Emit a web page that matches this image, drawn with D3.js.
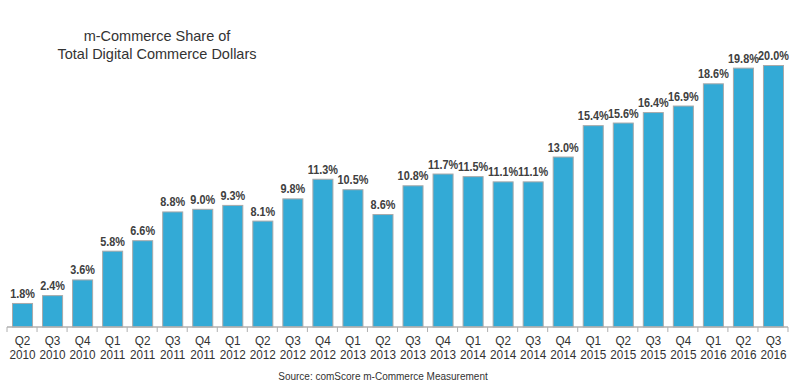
<!DOCTYPE html>
<html>
<head>
<meta charset="utf-8">
<title>m-Commerce Share</title>
<script src="https://d3js.org/d3.v7.min.js"></script>
<style>
  body { margin: 0; background: #fff; font-family: "Liberation Sans", Arial, sans-serif; }
</style>
</head>
<body>
<svg id="chart" width="800" height="388"></svg>
<script>
// quarters and values
var quarters = ["Q2","Q3","Q4","Q1","Q2","Q3","Q4","Q1","Q2","Q3","Q4","Q1","Q2","Q3","Q4","Q1","Q2","Q3","Q4","Q1","Q2","Q3","Q4","Q1","Q2","Q3"];
var years = ["2010","2010","2010","2011","2011","2011","2011","2012","2012","2012","2012","2013","2013","2013","2013","2014","2014","2014","2014","2015","2015","2015","2015","2016","2016","2016"];
var shares = [1.8, 2.4, 3.6, 5.8, 6.6, 8.8, 9.0, 9.3, 8.1, 9.8, 11.3, 10.5, 8.6, 10.8, 11.7, 11.5, 11.1, 11.1, 13.0, 15.4, 15.6, 16.4, 16.9, 18.6, 19.8, 20.0];

var svg = d3.select("#chart");
var keys = quarters.map(function(q, i) { return q + " " + years[i]; });
var squeeze = 0.87;  // the source image is a bit narrow, so text is squeezed sideways

var x = d3.scaleBand()
    .domain(keys)
    .range([7, 788])
    .paddingInner(0.333)
    .paddingOuter(0.1667);

var y = d3.scaleLinear()
    .domain([0, 20])
    .range([326.5, 65]);

function cx(i) { return x(keys[i]) + x.bandwidth() / 2 + 0.5; }

// title
svg.append("text")
    .attr("x", 157).attr("y", 41)
    .attr("text-anchor", "middle")
    .style("font-size", "14.5px").style("fill", "#333")
    .text("m-Commerce Share of");
svg.append("text")
    .attr("x", 157).attr("y", 59)
    .attr("text-anchor", "middle")
    .style("font-size", "14.5px").style("fill", "#333")
    .text("Total Digital Commerce Dollars");

// bars
svg.append("g")
    .selectAll("rect")
    .data(shares)
    .enter()
    .append("rect")
    .attr("x", function(d, i) { return x(keys[i]) + 0.5; })
    .attr("y", function(d) { return y(d) + 0.5; })
    .attr("width", x.bandwidth())
    .attr("height", function(d) { return y(0) - y(d); })
    .style("fill", "#33aad6")
    .style("stroke", "#a9a9a9")
    .style("stroke-width", 1);

// value labels
svg.append("g")
    .selectAll("text")
    .data(shares)
    .enter()
    .append("text")
    .attr("transform", function(d, i) { return "translate(" + cx(i) + "," + (y(d) - 5) + ") scale(" + squeeze + ",1)"; })
    .attr("text-anchor", "middle")
    .style("font-size", "12.5px").style("font-weight", "bold").style("fill", "#404040")
    .text(function(d) { return d.toFixed(1) + "%"; });

// x axis: line with ticks at band edges, two-line labels
var axis = svg.append("g");
axis.append("line")
    .attr("x1", 7).attr("x2", 788)
    .attr("y1", 327).attr("y2", 327)
    .style("stroke", "#b0b0b0").style("stroke-width", 1.5);

var step = x.step();
function edge(i) { return 7 + i * step; }
axis.selectAll("line.tick")
    .data(d3.range(keys.length + 1))
    .enter()
    .append("line")
    .attr("class", "tick")
    .attr("x1", edge).attr("x2", edge)
    .attr("y1", 327).attr("y2", 332)
    .style("stroke", "#b0b0b0").style("stroke-width", 1);

var labels = axis.selectAll("text.lbl")
    .data(keys)
    .enter()
    .append("text")
    .attr("class", "lbl")
    .attr("transform", function(d, i) { return "translate(" + cx(i) + ",0) scale(" + squeeze + ",1)"; })
    .attr("text-anchor", "middle")
    .style("font-size", "13.5px").style("fill", "#333");
labels.append("tspan")
    .attr("x", 0).attr("y", 345)
    .text(function(d, i) { return quarters[i]; });
labels.append("tspan")
    .attr("x", 0).attr("y", 359)
    .text(function(d, i) { return years[i]; });

// source
svg.append("text")
    .attr("x", 383).attr("y", 380)
    .attr("text-anchor", "middle")
    .style("font-size", "10px").style("fill", "#333")
    .text("Source: comScore m-Commerce Measurement");
</script>
</body>
</html>
